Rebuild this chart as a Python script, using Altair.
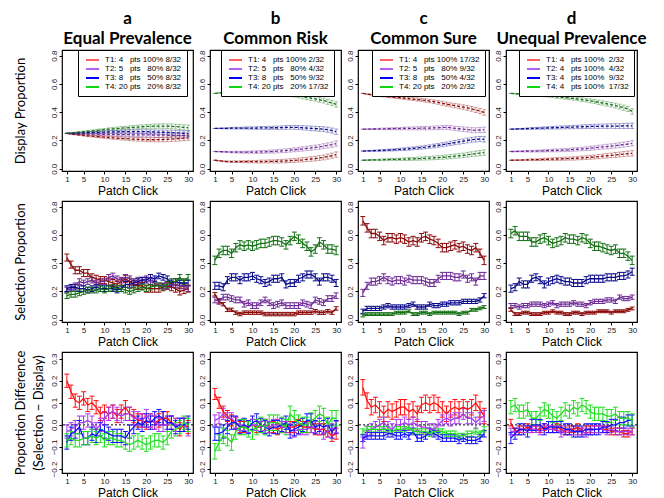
import altair as alt
import pandas as pd

# ---------------- data ----------------
CLICKS = list(range(1, 31))
SERIES = ["T1", "T2", "T3", "T4"]

COL_TITLES = [["a", "Equal Prevalence"], ["b", "Common Risk"],
              ["c", "Common Sure"], ["d", "Unequal Prevalence"]]

S = "\u00a0"
LEG_A = ["T1: 4" + S*3 + "pts 100%" + S + "8/32", "T2: 5" + S*3 + "pts" + S*3 + "80%" + S + "8/32",
         "T3: 8" + S*3 + "pts" + S*3 + "50%" + S + "8/32", "T4: 20 pts" + S*3 + "20%" + S + "8/32"]
LEG_B = ["T1: 4" + S*3 + "pts 100%" + S + "2/32", "T2: 5" + S*3 + "pts" + S*3 + "80%" + S + "4/32",
         "T3: 8" + S*3 + "pts" + S*3 + "50%" + S + "9/32", "T4: 20 pts" + S*3 + "20%" + S + "17/32"]
LEG_C = ["T1: 4" + S*3 + "pts 100%" + S + "17/32", "T2: 5" + S*3 + "pts" + S*3 + "80%" + S + "9/32",
         "T3: 8" + S*3 + "pts" + S*3 + "50%" + S + "4/32", "T4: 20 pts" + S*3 + "20%" + S + "2/32"]
LEG_D = ["T1: 4" + S*3 + "pts 100%" + S*2 + "2/32", "T2: 4" + S*3 + "pts 100%" + S*2 + "4/32",
         "T3: 4" + S*3 + "pts 100%" + S*2 + "9/32", "T4: 4" + S*3 + "pts 100%" + S*2 + "17/32"]

# Display proportion
disp_a_t1 = [0.250,0.246,0.242,0.239,0.236,0.233,0.231,0.228,0.226,0.223,0.221,0.219,0.217,0.215,0.213,0.211,0.209,0.208,0.207,0.206,0.205,0.205,0.206,0.207,0.208,0.210,0.212,0.214,0.217,0.220]
disp_a_t2 = [0.250,0.249,0.248,0.247,0.246,0.246,0.245,0.245,0.244,0.244,0.243,0.243,0.242,0.242,0.241,0.241,0.240,0.240,0.240,0.239,0.239,0.238,0.238,0.238,0.237,0.237,0.236,0.236,0.235,0.235]
disp_a_t3 = [0.250,0.251,0.252,0.253,0.254,0.255,0.256,0.257,0.258,0.259,0.260,0.261,0.261,0.262,0.262,0.263,0.263,0.263,0.262,0.262,0.261,0.260,0.259,0.258,0.257,0.256,0.254,0.252,0.250,0.248]
disp_a_t4 = [0.250,0.253,0.256,0.259,0.262,0.265,0.268,0.271,0.274,0.277,0.280,0.282,0.284,0.287,0.289,0.291,0.293,0.295,0.297,0.299,0.300,0.301,0.302,0.302,0.301,0.300,0.298,0.296,0.293,0.290]

disp_b_t1 = [0.060,0.056,0.053,0.051,0.050,0.050,0.050,0.050,0.050,0.050,0.050,0.051,0.051,0.052,0.052,0.053,0.054,0.055,0.057,0.059,0.061,0.063,0.066,0.069,0.072,0.076,0.080,0.086,0.092,0.100]
disp_b_t2 = [0.122,0.121,0.120,0.119,0.118,0.118,0.117,0.117,0.117,0.118,0.118,0.119,0.120,0.121,0.122,0.124,0.126,0.128,0.131,0.134,0.137,0.140,0.144,0.147,0.151,0.155,0.160,0.165,0.170,0.178]
disp_b_t3 = [0.285,0.285,0.286,0.286,0.287,0.287,0.287,0.288,0.288,0.288,0.288,0.289,0.289,0.289,0.290,0.290,0.291,0.292,0.293,0.293,0.292,0.290,0.288,0.286,0.284,0.282,0.280,0.276,0.270,0.262]
disp_b_t4 = [0.533,0.536,0.539,0.541,0.543,0.545,0.546,0.547,0.548,0.548,0.548,0.547,0.546,0.545,0.543,0.541,0.538,0.534,0.530,0.522,0.516,0.510,0.504,0.499,0.494,0.488,0.482,0.474,0.466,0.455]

disp_c_t1 = [0.533,0.528,0.524,0.520,0.517,0.514,0.511,0.508,0.505,0.502,0.499,0.496,0.493,0.490,0.487,0.483,0.479,0.474,0.469,0.463,0.457,0.451,0.446,0.441,0.436,0.430,0.424,0.416,0.408,0.398]
disp_c_t2 = [0.280,0.280,0.281,0.281,0.282,0.282,0.283,0.283,0.284,0.284,0.285,0.285,0.286,0.286,0.287,0.287,0.288,0.289,0.290,0.292,0.293,0.290,0.286,0.283,0.280,0.277,0.274,0.272,0.274,0.276]
disp_c_t3 = [0.125,0.126,0.127,0.128,0.129,0.130,0.132,0.133,0.135,0.137,0.139,0.141,0.144,0.147,0.150,0.153,0.157,0.161,0.165,0.170,0.175,0.180,0.185,0.190,0.195,0.200,0.205,0.208,0.210,0.208]
disp_c_t4 = [0.060,0.061,0.062,0.062,0.063,0.064,0.065,0.066,0.066,0.067,0.068,0.069,0.070,0.071,0.072,0.074,0.075,0.077,0.079,0.081,0.083,0.086,0.089,0.092,0.095,0.099,0.103,0.107,0.111,0.115]

disp_d_t1 = [0.060,0.061,0.061,0.062,0.063,0.064,0.064,0.065,0.066,0.067,0.068,0.069,0.070,0.071,0.072,0.073,0.075,0.077,0.079,0.081,0.083,0.086,0.089,0.092,0.095,0.098,0.101,0.104,0.107,0.109]
disp_d_t2 = [0.122,0.122,0.123,0.123,0.124,0.124,0.125,0.126,0.127,0.128,0.129,0.130,0.131,0.132,0.134,0.136,0.138,0.140,0.142,0.145,0.148,0.151,0.154,0.157,0.160,0.163,0.167,0.171,0.175,0.180]
disp_d_t3 = [0.280,0.281,0.282,0.283,0.284,0.285,0.286,0.287,0.288,0.289,0.290,0.291,0.292,0.293,0.294,0.295,0.296,0.297,0.298,0.299,0.300,0.300,0.301,0.301,0.302,0.302,0.302,0.303,0.303,0.304]
disp_d_t4 = [0.533,0.531,0.529,0.527,0.525,0.523,0.521,0.519,0.517,0.515,0.512,0.509,0.506,0.503,0.500,0.497,0.493,0.489,0.485,0.480,0.475,0.470,0.465,0.459,0.453,0.447,0.440,0.432,0.423,0.405]

disp_err = [0.000,0.002,0.003,0.004,0.005,0.006,0.006,0.007,0.008,0.008,0.009,0.010,0.010,0.011,0.011,0.012,0.012,0.013,0.013,0.014,0.014,0.015,0.015,0.016,0.016,0.017,0.017,0.018,0.018,0.019]

# Selection proportion
sel_a_t1 = [0.44,0.39,0.35,0.35,0.33,0.33,0.30,0.29,0.28,0.28,0.27,0.26,0.25,0.27,0.29,0.27,0.25,0.24,0.24,0.22,0.22,0.22,0.22,0.23,0.24,0.23,0.22,0.20,0.21,0.22]
sel_a_t2 = [0.21,0.22,0.24,0.27,0.26,0.27,0.28,0.26,0.27,0.27,0.30,0.31,0.29,0.28,0.30,0.29,0.27,0.28,0.28,0.29,0.27,0.26,0.24,0.24,0.24,0.25,0.25,0.24,0.24,0.22]
sel_a_t3 = [0.22,0.23,0.23,0.22,0.22,0.21,0.22,0.23,0.22,0.22,0.22,0.22,0.21,0.22,0.25,0.25,0.26,0.27,0.28,0.28,0.30,0.29,0.31,0.30,0.29,0.26,0.27,0.26,0.26,0.26]
sel_a_t4 = [0.17,0.18,0.18,0.19,0.20,0.21,0.21,0.21,0.22,0.21,0.22,0.23,0.22,0.22,0.21,0.20,0.21,0.22,0.23,0.22,0.23,0.24,0.24,0.23,0.25,0.27,0.27,0.30,0.27,0.30]

sel_b_t1 = [0.18,0.13,0.11,0.07,0.07,0.05,0.04,0.05,0.05,0.05,0.05,0.05,0.04,0.04,0.04,0.04,0.04,0.04,0.04,0.04,0.05,0.05,0.05,0.05,0.06,0.05,0.05,0.06,0.05,0.08]
sel_b_t2 = [0.14,0.13,0.16,0.16,0.15,0.14,0.14,0.11,0.12,0.10,0.10,0.12,0.14,0.12,0.10,0.11,0.12,0.10,0.10,0.10,0.10,0.12,0.11,0.10,0.14,0.13,0.12,0.15,0.15,0.17]
sel_b_t3 = [0.24,0.24,0.23,0.28,0.30,0.30,0.28,0.30,0.30,0.31,0.29,0.28,0.26,0.27,0.29,0.29,0.30,0.25,0.26,0.26,0.29,0.30,0.32,0.32,0.30,0.27,0.30,0.30,0.29,0.26]
sel_b_t4 = [0.42,0.47,0.49,0.49,0.47,0.51,0.53,0.52,0.53,0.52,0.53,0.54,0.54,0.55,0.56,0.56,0.55,0.53,0.56,0.59,0.57,0.54,0.52,0.48,0.50,0.55,0.53,0.50,0.50,0.49]

sel_c_t1 = [0.70,0.65,0.61,0.61,0.59,0.56,0.58,0.58,0.57,0.58,0.57,0.55,0.56,0.55,0.58,0.59,0.57,0.56,0.54,0.51,0.51,0.52,0.53,0.51,0.52,0.50,0.49,0.51,0.47,0.42]
sel_c_t2 = [0.19,0.24,0.27,0.27,0.28,0.30,0.28,0.27,0.28,0.28,0.27,0.29,0.28,0.28,0.28,0.27,0.26,0.26,0.29,0.31,0.31,0.31,0.30,0.30,0.32,0.29,0.30,0.27,0.31,0.31]
sel_c_t3 = [0.06,0.08,0.08,0.08,0.08,0.09,0.10,0.09,0.09,0.09,0.09,0.10,0.11,0.09,0.09,0.09,0.11,0.10,0.10,0.11,0.11,0.12,0.12,0.12,0.13,0.13,0.13,0.13,0.14,0.17]
sel_c_t4 = [0.03,0.04,0.04,0.04,0.04,0.04,0.04,0.04,0.05,0.05,0.05,0.06,0.04,0.04,0.05,0.05,0.04,0.05,0.05,0.05,0.05,0.05,0.05,0.04,0.05,0.05,0.07,0.07,0.08,0.09]

sel_d_t1 = [0.07,0.04,0.04,0.05,0.05,0.04,0.04,0.04,0.05,0.05,0.06,0.05,0.05,0.04,0.04,0.05,0.05,0.04,0.05,0.05,0.05,0.06,0.06,0.06,0.05,0.06,0.06,0.06,0.07,0.08]
sel_d_t2 = [0.10,0.10,0.09,0.10,0.10,0.11,0.11,0.11,0.10,0.11,0.12,0.10,0.11,0.11,0.11,0.12,0.11,0.11,0.10,0.12,0.13,0.13,0.13,0.14,0.14,0.13,0.16,0.15,0.15,0.16]
sel_d_t3 = [0.22,0.23,0.27,0.25,0.25,0.29,0.30,0.28,0.25,0.27,0.28,0.29,0.28,0.27,0.27,0.26,0.26,0.26,0.28,0.29,0.29,0.29,0.29,0.30,0.30,0.30,0.31,0.31,0.32,0.34]
sel_d_t4 = [0.61,0.63,0.59,0.59,0.59,0.55,0.55,0.57,0.58,0.56,0.54,0.55,0.56,0.58,0.57,0.57,0.56,0.58,0.57,0.54,0.52,0.52,0.51,0.50,0.49,0.50,0.47,0.47,0.45,0.42]

sel_err_a = [0.025, 0.020, 0.020, 0.020]
sel_err_b = [0.012, 0.020, 0.025, 0.030]
sel_err_c = [0.030, 0.025, 0.015, 0.010]
sel_err_d = [0.010, 0.015, 0.025, 0.030]

# Proportion difference (selection - display)
dif_a_t1 = [0.20,0.15,0.11,0.10,0.12,0.09,0.10,0.08,0.05,0.06,0.05,0.06,0.04,0.06,0.08,0.05,0.04,0.02,0.02,0.01,0.02,0.01,0.02,0.03,0.03,0.01,0.00,-0.02,0.00,-0.01]
dif_a_t2 = [-0.03,-0.02,-0.01,0.01,0.01,0.02,0.01,-0.02,0.00,0.03,0.05,0.06,0.05,0.04,0.05,0.05,0.03,0.03,0.02,0.04,0.02,0.01,0.00,0.00,0.00,0.01,0.00,0.00,0.00,-0.02]
dif_a_t3 = [-0.08,-0.04,-0.03,-0.01,-0.06,-0.06,-0.04,-0.05,-0.02,-0.03,-0.04,-0.05,-0.05,-0.05,-0.06,-0.03,-0.01,0.01,0.00,0.02,0.01,0.03,0.04,0.03,0.01,0.01,-0.01,0.00,0.00,0.01]
dif_a_t4 = [-0.07,-0.06,-0.07,-0.07,-0.06,-0.06,-0.05,-0.06,-0.05,-0.07,-0.06,-0.06,-0.07,-0.07,-0.08,-0.09,-0.08,-0.07,-0.08,-0.09,-0.08,-0.07,-0.07,-0.08,-0.06,-0.03,-0.02,-0.01,0.01,0.00]

dif_b_t1 = [0.14,0.10,0.06,0.04,0.02,0.01,-0.01,-0.01,-0.01,0.00,-0.01,-0.01,0.00,-0.01,-0.01,-0.02,-0.01,-0.01,-0.01,-0.01,0.00,-0.01,-0.01,-0.01,-0.02,-0.02,-0.02,-0.03,-0.05,-0.04]
dif_b_t2 = [0.02,0.03,0.05,0.03,0.03,0.01,0.00,0.00,-0.01,0.00,0.00,-0.01,0.00,-0.01,0.00,0.00,-0.01,-0.01,-0.02,-0.03,-0.02,-0.02,-0.02,-0.01,-0.01,-0.02,-0.04,-0.03,-0.02,-0.01]
dif_b_t3 = [-0.04,-0.04,-0.03,-0.01,0.01,0.01,-0.01,0.00,-0.01,0.01,0.02,0.00,-0.01,-0.02,-0.01,-0.01,0.00,0.01,-0.03,-0.02,-0.01,0.00,0.02,0.02,-0.01,0.00,-0.01,0.00,-0.03,-0.01]
dif_b_t4 = [-0.12,-0.08,-0.05,-0.06,-0.08,-0.03,-0.01,-0.01,-0.02,-0.03,-0.01,0.00,-0.01,0.01,0.01,0.01,0.00,-0.01,0.05,0.03,0.01,0.00,0.00,0.02,0.03,0.05,0.04,0.00,0.03,0.03]

dif_c_t1 = [0.17,0.11,0.08,0.09,0.07,0.05,0.07,0.06,0.07,0.08,0.08,0.06,0.07,0.05,0.09,0.10,0.09,0.10,0.09,0.07,0.05,0.07,0.08,0.07,0.08,0.07,0.08,0.10,0.07,0.04]
dif_c_t2 = [-0.08,-0.03,-0.02,-0.01,0.00,0.01,-0.01,-0.02,0.00,0.00,0.01,0.00,0.01,0.00,-0.01,-0.01,-0.02,-0.02,0.00,0.02,0.03,0.02,0.03,0.03,0.05,0.03,0.03,0.01,0.03,0.04]
dif_c_t3 = [-0.06,-0.05,-0.05,-0.05,-0.05,-0.05,-0.04,-0.04,-0.05,-0.05,-0.04,-0.05,-0.03,-0.06,-0.06,-0.05,-0.03,-0.04,-0.05,-0.06,-0.06,-0.06,-0.06,-0.07,-0.06,-0.07,-0.07,-0.07,-0.06,-0.04]
dif_c_t4 = [-0.03,-0.02,-0.02,-0.02,-0.02,-0.02,-0.02,-0.03,-0.02,-0.02,-0.02,-0.01,-0.03,-0.03,-0.03,-0.03,-0.04,-0.03,-0.03,-0.03,-0.04,-0.04,-0.04,-0.05,-0.05,-0.04,-0.04,-0.03,-0.04,-0.02]

dif_d_t1 = [0.01,-0.03,-0.02,-0.02,-0.01,-0.02,-0.02,-0.02,-0.01,-0.02,-0.02,-0.01,-0.02,-0.03,-0.02,-0.02,-0.01,-0.03,-0.02,-0.02,-0.02,-0.02,-0.02,-0.02,-0.03,-0.03,-0.03,-0.04,-0.04,-0.03]
dif_d_t2 = [-0.03,-0.03,-0.03,-0.02,-0.02,-0.02,-0.02,-0.03,-0.02,-0.02,-0.02,-0.02,-0.04,-0.02,-0.03,-0.03,-0.03,-0.03,-0.04,-0.03,-0.02,-0.02,-0.02,-0.03,-0.02,-0.03,-0.03,-0.03,-0.03,-0.03]
dif_d_t3 = [-0.06,-0.04,-0.02,-0.02,-0.03,0.00,0.00,0.00,-0.02,-0.01,-0.01,-0.01,-0.01,-0.02,-0.02,-0.03,-0.03,-0.03,-0.02,-0.02,-0.02,-0.02,-0.01,-0.01,0.00,0.00,0.01,0.01,0.02,0.02]
dif_d_t4 = [0.08,0.09,0.06,0.06,0.07,0.03,0.03,0.05,0.07,0.06,0.04,0.03,0.05,0.07,0.06,0.08,0.07,0.09,0.08,0.06,0.05,0.05,0.05,0.04,0.04,0.05,0.03,0.03,0.03,0.02]

dif_err_a = [0.030, 0.030, 0.030, 0.030]
dif_err_b = [0.025, 0.025, 0.030, 0.035]
dif_err_c = [0.035, 0.025, 0.015, 0.012]
dif_err_d = [0.015, 0.015, 0.025, 0.030]

X_TICKS = [1, 5, 10, 15, 20, 25, 30]
Y_TICKS_P = [0.0, 0.2, 0.4, 0.6, 0.8]
Y_TICKS_D = [-0.2, -0.1, 0.0, 0.1, 0.2, 0.3]

# ---------------- styling ----------------
DARK = ["#8B0A0A", "#6E2A96", "#0A0A8B", "#137013"]
BRIGHT = ["#FF1010", "#A63AF0", "#1010FF", "#22DD22"]
LEGCOL = ["#FF6262", "#B062F0", "#0000FF", "#10D810"]
PANEL_W = 131
PANEL_H = 121
LEG_X = [16, 11, 14, 13]

disp_vals = [[disp_a_t1, disp_a_t2, disp_a_t3, disp_a_t4],
             [disp_b_t1, disp_b_t2, disp_b_t3, disp_b_t4],
             [disp_c_t1, disp_c_t2, disp_c_t3, disp_c_t4],
             [disp_d_t1, disp_d_t2, disp_d_t3, disp_d_t4]]
sel_vals = [[sel_a_t1, sel_a_t2, sel_a_t3, sel_a_t4],
            [sel_b_t1, sel_b_t2, sel_b_t3, sel_b_t4],
            [sel_c_t1, sel_c_t2, sel_c_t3, sel_c_t4],
            [sel_d_t1, sel_d_t2, sel_d_t3, sel_d_t4]]
dif_vals = [[dif_a_t1, dif_a_t2, dif_a_t3, dif_a_t4],
            [dif_b_t1, dif_b_t2, dif_b_t3, dif_b_t4],
            [dif_c_t1, dif_c_t2, dif_c_t3, dif_c_t4],
            [dif_d_t1, dif_d_t2, dif_d_t3, dif_d_t4]]
sel_errs = [sel_err_a, sel_err_b, sel_err_c, sel_err_d]
dif_errs = [dif_err_a, dif_err_b, dif_err_c, dif_err_d]
legends = [LEG_A, LEG_B, LEG_C, LEG_D]


def build_df(vals, err_of):
    recs = []
    for si, s in enumerate(SERIES):
        for i, x in enumerate(CLICKS):
            v = vals[si][i]
            e = err_of(si, i)
            recs.append({"x": x, "y": v, "lo": v - e, "hi": v + e, "s": s})
    return pd.DataFrame(recs)


def make_panel(row, ci):
    if row == 0:
        df = build_df(disp_vals[ci], lambda si, i: disp_err[i])
        domain, ticks, colors = [-0.016, 0.84], Y_TICKS_P, DARK
        ytitle = "Display Proportion"
    elif row == 1:
        df = build_df(sel_vals[ci], lambda si, i: sel_errs[ci][si])
        domain, ticks, colors = [-0.016, 0.84], Y_TICKS_P, DARK
        ytitle = "Selection Proportion"
    else:
        df = build_df(dif_vals[ci], lambda si, i: dif_errs[ci][si])
        domain, ticks, colors = [-0.218, 0.33], Y_TICKS_D, BRIGHT
        ytitle = ["Proportion Difference", "(Selection \u2212 Display)"]

    xs = alt.Scale(domain=[-0.16, 31.16], nice=False, zero=False)
    ys = alt.Scale(domain=domain, nice=False, zero=False)
    xax = alt.Axis(values=X_TICKS, title="Patch Click", labelFontSize=8,
                   titleFontSize=12, titlePadding=2, labelPadding=1, tickSize=3)
    yax_kw = dict(values=ticks, format=".1f", labelAngle=-90, labelAlign="center",
                  labelBaseline="bottom", labelFontSize=8, labelPadding=1, tickSize=3)
    if ci == 0:
        yax = alt.Axis(title=ytitle, titleFont="Lato", titleFontSize=13,
                       titleFontWeight="normal", titlePadding=(5 if row == 2 else 23),
                       titleLineHeight=18, **yax_kw)
    else:
        yax = alt.Axis(title=None, **yax_kw)

    def X():
        return alt.X("x:Q", scale=xs, axis=xax)

    def Y(f):
        return alt.Y(f, type="quantitative", scale=ys, axis=yax)

    col = alt.Color("s:N", scale=alt.Scale(domain=SERIES, range=colors), legend=None)
    base = alt.Chart(df)
    err_op = 0.38 if row == 0 else 1.0
    cap = 4 if row == 0 else 5
    rules = base.mark_rule(strokeWidth=1, opacity=err_op).encode(X(), Y("lo"), y2="hi", color=col)
    cap_lo = base.mark_tick(orient="horizontal", size=cap, thickness=1, opacity=err_op).encode(X(), Y("lo"), color=col)
    cap_hi = base.mark_tick(orient="horizontal", size=cap, thickness=1, opacity=err_op).encode(X(), Y("hi"), color=col)
    if row == 0:
        line = base.mark_line(strokeWidth=1.3, strokeDash=[3, 2]).encode(X(), Y("y"), color=col)
    else:
        line = base.mark_line(strokeWidth=1.3).encode(X(), Y("y"), color=col)
    layers = [rules, cap_lo, cap_hi, line]

    if row == 2:
        zero = alt.Chart(pd.DataFrame({"z": [0.0]})).mark_rule(
            color="black", strokeWidth=1, strokeDash=[2, 2]).encode(Y("z"))
        layers.insert(0, zero)

    if row == 0:
        labs = legends[ci]
        leg_df = pd.DataFrame({"lab": labs, "x": [1] * 4, "y": [0.25] * 4})
        leg = alt.Chart(leg_df).mark_line(opacity=0).encode(
            X(), Y("y"),
            stroke=alt.Stroke("lab:N", scale=alt.Scale(domain=labs, range=LEGCOL),
                              legend=alt.Legend(title=None, orient="none", legendX=LEG_X[ci],
                                                legendY=0, direction="vertical",
                                                symbolType="M-0.5,0L2.75,0", symbolSize=64,
                                                symbolStrokeWidth=2, symbolOpacity=1,
                                                labelFont="Liberation Sans", labelFontSize=8,
                                                labelColor="black", labelLimit=300,
                                                rowPadding=0, padding=5, strokeColor="black",
                                                fillColor="white", cornerRadius=0,
                                                labelOffset=12)))
        layers.append(leg)

    ch = alt.layer(*layers).properties(width=PANEL_W, height=PANEL_H)
    if row == 0:
        ch = ch.properties(title=alt.TitleParams(text=COL_TITLES[ci], font="Lato", fontSize=17,
                                                 fontWeight="bold", anchor="middle",
                                                 lineHeight=20, offset=2, color="black"))
    return ch


panels = [make_panel(r, c) for r in range(3) for c in range(4)]

chart = alt.concat(*panels, columns=4, spacing={"row": 30, "column": 17},
                   bounds="flush").resolve_scale(
    color="independent", stroke="independent"
).resolve_legend(stroke="independent").properties(
    padding={"left": 5, "top": 0, "right": 0, "bottom": 0}
).configure_view(stroke="black", strokeWidth=1.2).configure_axis(
    domain=False, grid=False, tickColor="black", labelColor="#222",
    labelFont="Liberation Sans", titleFont="Liberation Sans",
    titleFontWeight="normal", titleColor="black"
)

chart.save("out.html", embed_options={"renderer": "svg", "actions": False})
